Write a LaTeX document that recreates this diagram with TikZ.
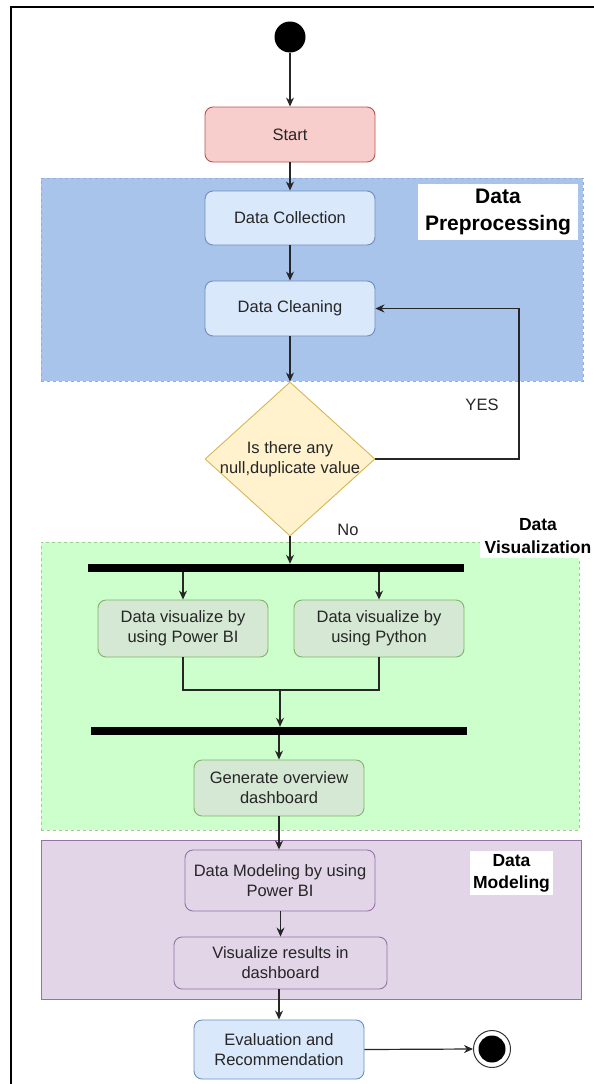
\documentclass[tikz,border=0pt]{standalone}
\usepackage{fontspec}
\setmainfont{Liberation Sans}
\usetikzlibrary{arrows.meta,shapes.geometric}

\definecolor{startfill}{HTML}{F8CECC}
\definecolor{startdraw}{HTML}{B85450}
\definecolor{bluefill}{HTML}{DAE8FC}
\definecolor{bluedraw}{HTML}{6C8EBF}
\definecolor{prefill}{HTML}{A9C4EB}
\definecolor{predraw}{HTML}{8FAFD8}
\definecolor{decfill}{HTML}{FFF2CC}
\definecolor{decdraw}{HTML}{D6B656}
\definecolor{visfill}{HTML}{CCFFCC}
\definecolor{visdraw}{HTML}{9CCB94}
\definecolor{greenfill}{HTML}{D5E8D4}
\definecolor{greendraw}{HTML}{82B366}
\definecolor{purplefill}{HTML}{E1D5E7}
\definecolor{purpledraw}{HTML}{9673A6}

\tikzset{
  txt/.style={font=\fontsize{16.5pt}{20pt}\selectfont, align=center, text=black!85},
  box/.style={txt, rectangle, rounded corners=8pt, minimum width=170pt, minimum height=55pt, inner sep=0pt, line width=0.9pt},
  startbox/.style={box, fill=startfill, draw=startdraw},
  bluebox/.style={box, fill=bluefill, draw=bluedraw},
  greenbox/.style={box, fill=greenfill, draw=greendraw},
  purplebox/.style={box, fill=purplefill, draw=purpledraw},
  region/.style={rectangle, inner sep=0pt, line width=0.9pt},
  heading/.style={fill=white, inner sep=0pt, align=center, text=black, font=\bfseries},
  bar/.style={rectangle, fill=black, inner sep=0pt, minimum height=8pt},
  flow/.style={line width=1.2pt, draw=black!85, -{Stealth[length=9pt,width=8pt]}},
  plain/.style={line width=1.2pt, draw=black!85},
}

\begin{document}
\begin{tikzpicture}[x=1pt, y=-1pt]
\useasboundingbox (0,0) rectangle (594,1084);
\clip (0,0) rectangle (594,1084);

% page frame
\draw[line width=2pt] (11,1100) -- (11,7) -- (620,7);

% swimlane regions
\node[region, fill=prefill, draw=predraw, dashed, minimum width=542pt, minimum height=203pt] (pre) at (312,279.5) {};
\node[region, fill=visfill, draw=visdraw, dashed, minimum width=538pt, minimum height=288pt] (vis) at (310,686) {};
\node[region, fill=purplefill, draw=purpledraw, minimum width=540pt, minimum height=159pt] (mod) at (311,919.5) {};

% region headings
\node[heading, font=\bfseries\fontsize{21pt}{27pt}\selectfont, minimum width=160pt, minimum height=56pt] (preh) at (498,212) {Data\\Preprocessing};
\node[heading, font=\bfseries\fontsize{17.5pt}{23pt}\selectfont, minimum width=116pt, minimum height=44pt] (vish) at (538,536) {Data\\Visualization};
\node[heading, font=\bfseries\fontsize{17.5pt}{22pt}\selectfont, minimum width=83pt, minimum height=44pt] (modh) at (511.5,873) {Data\\Modeling};

% initial and final states
\node[circle, fill=black, minimum size=31pt, inner sep=0pt] (init) at (290,37) {};
\node[circle, draw=black!80, line width=1pt, fill=white, minimum size=37pt, inner sep=0pt] (final) at (492,1049) {};
\node[circle, fill=black, minimum size=27pt, inner sep=0pt] at (final.center) {};

% activities
\node[startbox] (start) at (290,134.5) {Start};
\node[bluebox, minimum height=54pt] (collect) at (290,218) {Data Collection};
\node[bluebox] (clean) at (290,308.5) {Data Cleaning};

\node[diamond, fill=decfill, draw=decdraw, line width=0.9pt, minimum width=170pt, minimum height=154pt, inner sep=0pt] (dec) at (290,459) {};
\node[txt, inner sep=0pt] at (dec.center) {Is there any\\null,duplicate value};

\node[bar, minimum width=376pt] (fork) at (276,568) {};
\node[greenbox, minimum height=57pt] (pbi) at (183,628.5) {Data visualize by\\using Power BI};
\node[greenbox, minimum height=57pt] (py) at (379,628.5) {Data visualize by\\using Python};
\coordinate (merge) at (280,690);
\node[bar, minimum width=376pt] (join) at (279,731) {};
\node[greenbox, minimum height=56pt] (gen) at (279,788) {Generate overview\\dashboard};

\node[purplebox, minimum width=190pt, minimum height=61pt] (dm) at (280,880.5) {Data Modeling by using\\Power BI};
\node[purplebox, minimum width=213pt, minimum height=52pt] (vr) at (280.5,963) {Visualize results in\\dashboard};
\node[bluebox, minimum height=59pt] (eval) at (279,1049.5) {Evaluation and\\Recommendation};

% connectors
\draw[flow] (init) -- (start);
\draw[flow] (start) -- (collect);
\draw[flow] (collect) -- (clean);
\draw[flow] (clean) -- (dec);
\draw[flow] (dec.east) -- (519,459) -- (519,308.5) -- (clean.east);
\node[txt] (yes) at (482,405) {YES};
\draw[flow] (dec.south) -- (dec.south |- fork.north);
\node[txt] (no) at (348,530) {No};
\draw[flow] (fork.south -| pbi.north) -- (pbi.north);
\draw[flow] (fork.south -| py.north) -- (py.north);
\draw[plain] (pbi.south) -- (pbi.south |- merge) -- (py.south |- merge) -- (py.south);
\draw[flow] (merge) -- (merge |- join.north);
\draw[flow] (join.south -| gen.north) -- (gen.north);
\draw[flow] (gen.south) -- (gen.south |- dm.north);
\draw[flow] (dm.south -| vr.north) -- (vr.north);
\draw[flow] (vr.south -| eval.north) -- (eval.north);
\draw[flow] (eval.east) -- (final.west);
\end{tikzpicture}
\end{document}
